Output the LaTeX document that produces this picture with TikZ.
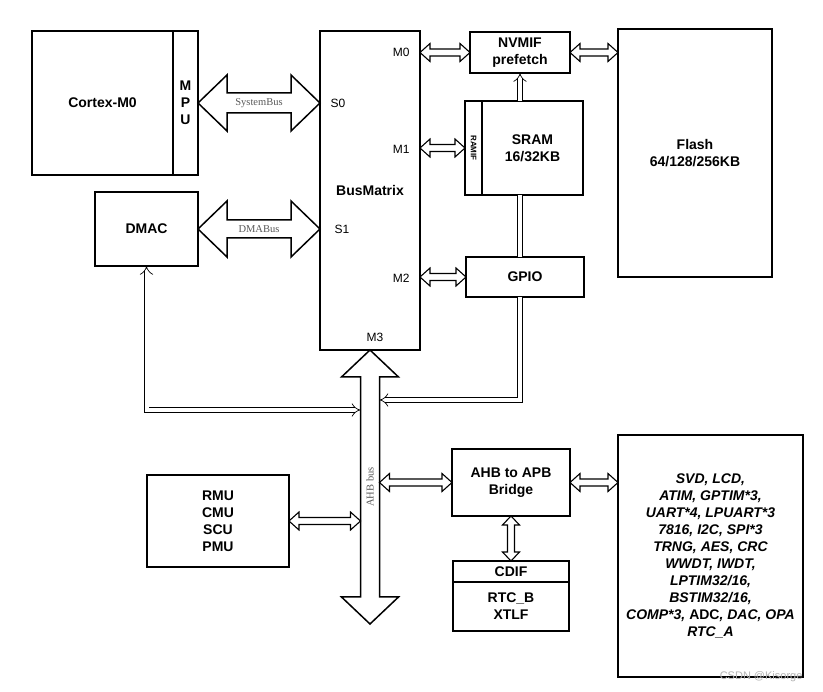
\documentclass[tikz,border=0pt]{standalone}
\usepackage{fontspec}
\setmainfont{Liberation Sans}
\newfontfamily\busfont{Liberation Serif}
\usetikzlibrary{calc,arrows.meta}

% block arrow between two points: #2 start, #3 end (x only), #4 shaft half, #5 head half, #6 head length
\newcommand{\hbus}[6][bus]{%
  \draw[#1] let \p1=(#2), \p2=(#3) in
    (\x1,\y1) -- ({\x1+#6},{\y1+#5}) -- ({\x1+#6},{\y1+#4}) -- ({\x2-#6},{\y1+#4}) -- ({\x2-#6},{\y1+#5}) -- (\x2,\y1)
    -- ({\x2-#6},{\y1-#5}) -- ({\x2-#6},{\y1-#4}) -- ({\x1+#6},{\y1-#4}) -- ({\x1+#6},{\y1-#5}) -- cycle;}
\newcommand{\vbus}[6][bus]{%
  \draw[#1] let \p1=(#2), \p2=(#3) in
    (\x1,\y1) -- ({\x1+#5},{\y1-#6}) -- ({\x1+#4},{\y1-#6}) -- ({\x1+#4},{\y2+#6}) -- ({\x1+#5},{\y2+#6}) -- (\x1,\y2)
    -- ({\x1-#5},{\y2+#6}) -- ({\x1-#4},{\y2+#6}) -- ({\x1-#4},{\y1-#6}) -- ({\x1-#5},{\y1-#6}) -- cycle;}

\tikzset{
  blk/.style={draw, line width=2.6pt, inner sep=0pt, outer sep=0pt, align=center,
    font=\fontsize{14}{17}\selectfont\bfseries},
  bus/.style={draw, line width=1.5pt, fill=white, line join=miter},
  sbus/.style={draw, line width=1.1pt, fill=white, line join=miter},
  dline/.style={double, double distance=4pt, line width=0.7pt},
  port/.style={font=\fontsize{12}{14}\selectfont},
  buslbl/.style={font=\busfont\fontsize{10.5}{12}\selectfont, text=black!65},
}

\begin{document}
\begin{tikzpicture}[x=1pt,y=-1pt]
  \useasboundingbox (0,0) rectangle (823,692);

  % core side
  \node[blk, minimum width=141pt, minimum height=144pt] (cpu) at (102.5,103) {Cortex-M0};
  \node[blk, minimum width=25pt, minimum height=144pt] (mpu) at (185.5,103) {M\\P\\U};
  \node[blk, minimum width=103pt, minimum height=74pt] (dmac) at (146.5,229) {DMAC};
  \node[blk, minimum width=100pt, minimum height=319pt] (bm) at (370,190.5) {BusMatrix};
  \node[port, anchor=west] (s0) at (327,103) {S0};
  \node[port, anchor=west] (s1) at (331,229) {S1};
  \node[port, anchor=east] (m0) at (413,52) {M0};
  \node[port, anchor=east] (m1) at (413,149) {M1};
  \node[port, anchor=east] (m2) at (413,278) {M2};
  \node[port] (m3) at (375,337) {M3};

  % memories
  \node[blk, minimum width=100pt, minimum height=41pt] (nvm) at (520,52.5) {NVMIF\\prefetch};
  \node[blk, minimum width=154pt, minimum height=248pt] (flash) at (695,153) {Flash\\64/128/256KB};
  \node[blk, minimum width=17pt, minimum height=94pt] (ramif) at (473.5,148) {};
  \node[rotate=-90, font=\fontsize{8}{9}\selectfont\bfseries] (ramiflbl) at (ramif.center) {RAMIF};
  \node[blk, minimum width=101pt, minimum height=94pt] (sram) at (532.5,148) {SRAM\\16/32KB};
  \node[blk, minimum width=118pt, minimum height=40pt] (gpio) at (525,277) {GPIO};

  % AHB side
  \node[minimum width=19pt, minimum height=218pt, inner sep=0pt, outer sep=0pt] (ahb) at (370,487) {};
  \coordinate (ahbend) at (370,624);
  \node[blk, minimum width=142pt, minimum height=92pt] (rmu) at (218,521) {RMU\\CMU\\SCU\\PMU};
  \node[blk, minimum width=118pt, minimum height=67pt] (bridge) at (511,482.5) {AHB to APB\\Bridge};
  \node[blk, minimum width=116pt, minimum height=21pt] (cdif) at (511,571.5) {CDIF};
  \node[blk, minimum width=116pt, minimum height=49pt] (rtc) at (511,606.5) {RTC\_B\\XTLF};
  \node[blk, minimum width=185pt, minimum height=242pt, font=\fontsize{14}{17}\selectfont\bfseries\itshape] (apb) at (710.5,556)
    {SVD, LCD,\\ATIM, GPTIM*3,\\UART*4, LPUART*3\\7816, I2C, SPI*3\\TRNG, AES, CRC\\WWDT, IWDT,\\LPTIM32/16,\\BSTIM32/16,\\COMP*3, {\upshape ADC}, DAC, OPA\\RTC\_A};

  % buses
  \hbus{mpu.east}{bm.west}{10pt}{28pt}{29pt}
  \node[buslbl] (sysbus) at (259,103) {SystemBus};
  \hbus{dmac.east}{bm.west}{9pt}{28pt}{29pt}
  \node[buslbl] (dmabus) at (259,229) {DMABus};
  \vbus{bm.south}{ahbend}{9.5pt}{28.5pt}{27pt}
  \node[buslbl, rotate=90] (ahblbl) at (ahb.center) {AHB bus};

  \hbus[sbus]{nvm.west -| bm.east}{nvm.west}{3.5pt}{9pt}{10pt}
  \hbus[sbus]{nvm.east}{flash.west}{3.5pt}{9pt}{10pt}
  \hbus[sbus]{ramif.west -| bm.east}{ramif.west}{3.5pt}{9pt}{10pt}
  \hbus[sbus]{gpio.west -| bm.east}{gpio.west}{3.5pt}{9pt}{10pt}
  \hbus[sbus]{rmu.east}{ahb.west}{3.5pt}{9pt}{10pt}
  \hbus[sbus]{ahb.east |- bridge.west}{bridge.west}{3.5pt}{9pt}{10pt}
  \hbus[sbus]{bridge.east}{apb.west}{3.5pt}{9pt}{10pt}
  \vbus[sbus]{bridge.south}{cdif.north}{3.5pt}{8.5pt}{9pt}

  % thin links
  \coordinate (ahbdma) at (ahb.west |- 0,410);
  \coordinate (ahbgpio) at (ahb.east |- 0,400);
  \draw[dline, Implies-Implies] (dmac.south) |- (ahbdma);
  \draw[dline, Implies-] (ahbgpio) -| (nvm.south |- gpio.south);
  \draw[dline] (nvm.south |- gpio.north) -- (nvm.south |- sram.south);
  \draw[dline, -Implies] (nvm.south |- sram.north) -- (nvm.south);

  \node[anchor=east, text=black!30, font=\fontsize{11}{12}\selectfont] (mark) at (806,677) {CSDN @Kisorge};
\end{tikzpicture}
\end{document}
